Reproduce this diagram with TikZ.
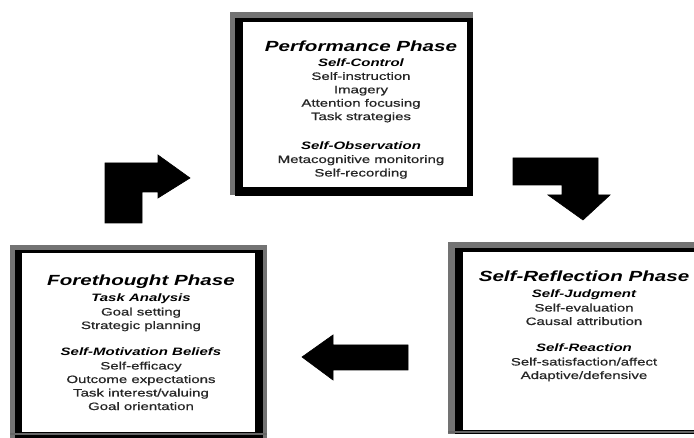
\documentclass[tikz,border=0pt]{standalone}
\usepackage{fontspec}
\newfontfamily\hv[FakeStretch=1.4]{Liberation Sans}
\newfontfamily\hvb[FakeStretch=1.4,FakeBold=0.7]{Liberation Sans}
\begin{document}
\begin{tikzpicture}[x=1pt,y=-1pt,
  titlef/.style={font=\hv\bfseries\itshape\fontsize{14.7}{17}\selectfont, anchor=base, inner sep=0pt},
  subf/.style={font=\hv\bfseries\itshape\fontsize{10.7}{13}\selectfont, anchor=base, inner sep=0pt},
  bodyf/.style={font=\hvb\fontsize{10.7}{13}\selectfont, anchor=base, inner sep=0pt, text=black!85},
  fringe/.style={fill=black!55},
  frameblack/.style={fill=black},
  inner/.style={fill=white},
  bottomline/.style={draw=black!60, line width=2.5pt},
  blockarrow/.style={fill=black, draw=black, line width=0.6pt, line join=miter}]
\useasboundingbox (0,0) rectangle (694,438);
\fill[white] (0,0) rectangle (694,438);

% ---- Performance frame
\fill[fringe] (230,12) rectangle (473,195);
\fill[frameblack] (235,18) rectangle (473,196);
\fill[inner] (243,22) rectangle (467,187);

% ---- Forethought frame
\fill[fringe] (10,245) rectangle (267,438);
\fill[frameblack] (15,250) rectangle (263,438);
\fill[inner] (22,253) rectangle (255,432);
\draw[bottomline] (10,434) -- (267,434);

% ---- Self-Reflection frame
\fill[fringe] (448,242) rectangle (694,434);
\fill[frameblack] (455,248) rectangle (694,434);
\fill[inner] (463,252) rectangle (694,430);
\draw[bottomline] (448,432) -- (694,432);

% ---- Performance text
\node[titlef] (pt) at (361,52) {Performance Phase};
\node[subf] (ps1) at (361,66.5) {Self-Control};
\foreach \t [count=\i] in {Self-instruction,Imagery,Attention focusing,Task strategies}
  \node[bodyf] (pa\i) at (361,66.5+\i*13.4) {\t};
\node[subf] (ps2) at (361,149.5) {Self-Observation};
\foreach \t [count=\i] in {Metacognitive monitoring,Self-recording}
  \node[bodyf] (pb\i) at (361,149.5+\i*13.5) {\t};

% ---- Forethought text
\node[titlef] (ft) at (141,286) {Forethought Phase};
\node[subf] (fs1) at (141,302) {Task Analysis};
\foreach \t [count=\i] in {Goal setting,Strategic planning}
  \node[bodyf] (fa\i) at (141,302+\i*13.5) {\t};
\node[subf] (fs2) at (141,356) {Self-Motivation Beliefs};
\foreach \t [count=\i] in {Self-efficacy,Outcome expectations,Task interest/valuing,Goal orientation}
  \node[bodyf] (fb\i) at (141,356+\i*13.5) {\t};

% ---- Self-Reflection text
\node[titlef] (rt) at (584,282) {Self-Reflection Phase};
\node[subf] (rs1) at (584,298) {Self-Judgment};
\foreach \t [count=\i] in {Self-evaluation,Causal attribution}
  \node[bodyf] (ra\i) at (584,298+\i*13.5) {\t};
\node[subf] (rs2) at (584,352) {Self-Reaction};
\foreach \t [count=\i] in {Self-satisfaction/affect,Adaptive/defensive}
  \node[bodyf] (rb\i) at (584,352+\i*13.5) {\t};

% ---- Block arrows
\filldraw[blockarrow] (105,163) -- (158,163) -- (158,155) -- (190,178) -- (158,198)
  -- (158,192) -- (142,192) -- (142,223) -- (105,223) -- cycle;
\filldraw[blockarrow] (513,158) -- (598,158) -- (598,195) -- (610,195) -- (583,220)
  -- (548,195) -- (562,195) -- (562,185) -- (513,185) -- cycle;
\filldraw[blockarrow] (408,345) -- (333,345) -- (333,335) -- (302,357) -- (333,380)
  -- (333,370) -- (408,370) -- cycle;
\end{tikzpicture}
\end{document}
